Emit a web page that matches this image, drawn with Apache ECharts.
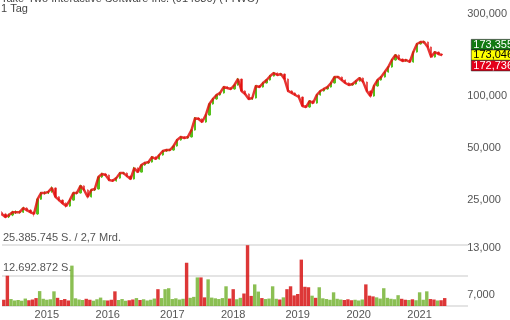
<!DOCTYPE html>
<html>
<head>
<meta charset="utf-8">
<script src="https://cdn.jsdelivr.net/npm/echarts@6/dist/echarts.min.js"></script>
<style>
html,body{margin:0;padding:0;background:#fff}
#main{width:510px;height:320px}
</style>
</head>
<body>
<div id="main"></div>
<script>
var chartTitle = 'Take-Two Interactive Software Inc. (914580) (TTWO)';
var period = '1 Tag';

// 3-week candles from April 2014 to May 2021, plus a few empty slots at the right
var firstDay = '2014-04-14';
var stepDays = 21;
var slotCount = 130;

var priceTicks = [7000, 13000, 25000, 50000, 100000, 300000];
var quoteHigh = 173355, quoteLast = 173046, quoteLow = 172736;

// [open, close, low, high]
var candles = [
  [21000,20600,20200,21400],[20600,19800,19400,20900],[19800,20300,19500,20700],[20300,21100,20000,21500],
  [21100,21100,20600,21600],[21100,21100,20700,21500],[21100,22300,20900,22700],[22300,21700,21300,22600],
  [21700,21100,20700,22000],[21100,20600,19900,21300],[20600,25100,20400,25500],[25100,27300,24900,27700],
  [27300,27300,26700,27900],[27300,27700,26900,28200],[27700,29200,27400,29800],[29200,25900,25500,29500],
  [25900,24800,24400,26200],[24800,23800,23400,25100],[23800,22900,22400,24100],[22900,24800,22700,25200],
  [24800,27300,24600,27700],[27300,27300,26800,27800],[27300,30000,27100,30500],[30000,28400,28000,30300],
  [28400,25900,25300,28700],[25900,28400,25700,28800],[28400,28800,28000,29300],[28800,33800,28600,34300],
  [33800,35200,33400,35800],[35200,34700,34200,35700],[34700,32500,32000,35000],[32500,32100,31600,32900],
  [32100,33300,31800,33800],[33300,35600,33000,36100],[35600,35600,35000,36200],[35600,34200,33700,36000],
  [34200,32900,32400,34500],[32900,38100,32700,38700],[38100,36100,35600,38500],[36100,39700,35900,40200],
  [39700,40800,39300,41400],[40800,41300,40300,41900],[41300,44200,41000,44800],[44200,43000,42400,44700],
  [43000,45400,42700,46000],[45400,47900,45000,48500],[47900,48500,47300,49200],[48500,48500,47800,49300],
  [48500,51200,48100,51900],[51200,55500,50800,56200],[55500,57800,55000,58600],[57800,57000,56200,58500],
  [57000,57800,56400,58600],[57800,63400,57400,64300],[63400,74400,63000,75500],[74400,73500,72400,75400],
  [73500,70600,69600,74200],[70600,77500,70000,78600],[77500,89900,77000,91200],[89900,96100,89200,97500],
  [96100,101400,95300,102900],[101400,104200,100500,105700],[104200,112800,103400,114400],[112800,111300,109700,114200],
  [111300,109900,108300,112800],[109900,115900,109000,117500],[115900,125600,115000,127400],[125600,107000,105400,126500],
  [107000,102800,101300,108200],[102800,96100,94700,103800],[96100,97400,95000,98800],[97400,114400,96800,116000],
  [114400,112800,111200,115800],[112800,119100,112000,120800],[119100,123900,118300,125600],[123900,130700,123100,132600],
  [130700,136100,129800,138100],[136100,132500,130600,137400],[132500,134300,131300,136200],[134300,125600,123800,135500],
  [125600,107000,105400,126600],[107000,104200,102700,108400],[104200,101400,100000,105300],[101400,98700,97300,102600],
  [98700,87500,86300,99600],[87500,86300,85000,88700],[86300,93500,85600,94800],[93500,91000,89700,94500],
  [91000,101400,90300,102800],[101400,107000,100600,108500],[107000,109900,106200,111400],[109900,112800,109000,114400],
  [112800,119100,112000,120800],[119100,129000,118300,130800],[129000,129000,127200,130800],[129000,123900,122200,130000],
  [123900,119100,117400,124900],[119100,115900,114300,120200],[115900,117500,114900,119100],[117500,122200,116600,123900],
  [122200,127200,121300,129000],[127200,120600,118900,128300],[120600,107000,105500,121600],[107000,100000,97500,108000],
  [100000,114400,99200,116000],[114400,123900,113500,125600],[123900,129000,123000,130800],[129000,137900,128100,139800],
  [137900,147500,136900,149500],[147500,162000,146300,164300],[162000,173200,160800,175600],[173200,164200,161900,174700],
  [164200,159800,157600,165600],[159800,162000,158200,164300],[162000,157700,155500,163300],[157700,180300,156500,182800],
  [180300,200800,179000,203600],[200800,206200,199300,209100],[206200,206200,202000,210000],[206200,192900,190200,207600],
  [192900,168600,166300,194200],[168600,180300,167400,182800],[180300,175500,173100,181600],[175500,173046,170600,176800]
];

var volumes = [
  2600000,12600000,2900000,2300000,2500000,2200000,3100000,2400000,2700000,3300000,
  6200000,3000000,2600000,2800000,6100000,3400000,2500000,2900000,2300000,16800000,
  3200000,2700000,2500000,3000000,2600000,2200000,2800000,3500000,2400000,2300000,
  2600000,6100000,2500000,2900000,2200000,2400000,2700000,3300000,2500000,2800000,
  2300000,2600000,3100000,7000000,3300000,7000000,7400000,2900000,3200000,2700000,
  3000000,18000000,3400000,3800000,11900000,11900000,3600000,11100000,3500000,3200000,
  2900000,3300000,8200000,3100000,7000000,2800000,3400000,5200000,25300000,4200000,
  9000000,6000000,3300000,2900000,3100000,8200000,3000000,2700000,3600000,7000000,
  8200000,4400000,5000000,19300000,8000000,7800000,4300000,3400000,7800000,3200000,
  2900000,2600000,5700000,3000000,2700000,2500000,2800000,2400000,2600000,2300000,
  2700000,9000000,4300000,4000000,3600000,3100000,7400000,3400000,3000000,2800000,
  4500000,3000000,2600000,2500000,2800000,2400000,5700000,2600000,6100000,2900000,
  2700000,2300000,2400000,3300000
];
var volumeMax = 25385745;

var upColor = '#55c01c';
var downColor = '#e3100f';

var dates = [];
var d0 = new Date(firstDay + 'T00:00:00Z');
for (var i = 0; i < slotCount; i++) {
  var d = new Date(d0.getTime() + i * stepDays * 86400000);
  dates.push(d.toISOString().slice(0, 10));
}
var closes = candles.map(function (c) { return c[1]; });

function isUp(idx) {
  var c = candles[idx];
  return c && c[1] >= c[0];
}

// slot that contains 1 January
function holdsNewYear(index) {
  return index + 1 < dates.length && dates[index].slice(0, 4) !== dates[index + 1].slice(0, 4);
}

var chart = echarts.init(document.getElementById('main'), null, {renderer: 'canvas'});

var option = {
  animation: false,
  backgroundColor: '#fff',
  textStyle: {fontFamily: 'Liberation Sans, Arial, sans-serif'},
  title: {
    text: chartTitle + '\n' + period,
    left: 1,
    top: -6,
    padding: 0,
    textStyle: {fontSize: 11, fontWeight: 'normal', color: '#444', lineHeight: 10}
  },
  grid: [
    {left: 0, right: 42, top: 0, bottom: 13},
    {left: 0, right: 42, top: 245, bottom: 13}
  ],
  xAxis: [
    {
      type: 'category', gridIndex: 0, data: dates,
      axisLine: {show: false}, axisTick: {show: false}, axisLabel: {show: false}
    },
    {
      type: 'category', gridIndex: 1, data: dates,
      axisLine: {show: false}, axisTick: {show: false},
      axisLabel: {
        interval: function (index) { return holdsNewYear(index); },
        formatter: function (v, idx) { return dates[idx + 1].slice(0, 4); },
        color: '#555', fontSize: 11, margin: 3
      }
    }
  ],
  yAxis: [
    {
      type: 'log', gridIndex: 0, position: 'right',
      min: 5924, max: 361900,
      axisLine: {show: false}, axisTick: {show: false}, splitLine: {show: false},
      axisLabel: {
        customValues: priceTicks,
        formatter: function (v) { return Math.round(v).toLocaleString('en-US'); },
        color: '#555', fontSize: 11, margin: 2, align: 'left'
      }
    },
    {
      type: 'value', gridIndex: 1, position: 'left',
      min: 0, max: volumeMax, interval: volumeMax / 2,
      axisLine: {show: false}, axisTick: {show: false},
      splitLine: {lineStyle: {color: '#e4e4e4', width: 2}},
      axisLabel: {
        inside: true, margin: 1, color: '#555', fontSize: 11,
        verticalAlign: 'bottom', padding: [0, 0, 2, 0],
        formatter: function (v) {
          if (v >= volumeMax - 1) return '25.385.745 S. / 2,7 Mrd.';
          if (v > 0) return '12.692.872 S.';
          return '';
        }
      }
    }
  ],
  series: [
    {
      type: 'candlestick', xAxisIndex: 0, yAxisIndex: 0, z: 2,
      data: candles, barMaxWidth: 2,
      itemStyle: {
        color: upColor, color0: downColor,
        borderColor: upColor, borderColor0: 'rgba(230,60,60,0.6)', borderWidth: 1
      }
    },
    {
      type: 'line', xAxisIndex: 0, yAxisIndex: 0, z: 3,
      data: closes, symbol: 'none',
      lineStyle: {color: downColor, width: 2.5, opacity: 0.85}
    },
    {
      type: 'bar', xAxisIndex: 1, yAxisIndex: 1,
      data: volumes, barCategoryGap: '5%',
      itemStyle: {
        color: function (p) { return isUp(p.dataIndex) ? 'rgba(110,175,40,0.8)' : 'rgba(215,20,20,0.85)'; }
      }
    }
  ]
};
chart.setOption(option);

var yMid = chart.convertToPixel({yAxisIndex: 0}, quoteLast);
function box(y, val, fill, txt) {
  return {
    type: 'group', left: 471, top: y,
    children: [
      {type: 'rect', shape: {x: 0, y: 0, width: 40, height: 10.5}, style: {fill: fill, stroke: '#222', lineWidth: 0.6}},
      {type: 'text', x: 2, y: 5.5, style: {text: val.toLocaleString('en-US'), fill: txt, font: '11px Liberation Sans, Arial, sans-serif', verticalAlign: 'middle'}}
    ]
  };
}
chart.setOption({
  graphic: [
    box(yMid - 16, quoteHigh, '#137a13', '#fff'),
    box(yMid - 5.5, quoteLast, '#ffff00', '#000'),
    box(yMid + 5, quoteLow, '#e4001b', '#fff')
  ]
});
</script>
</body>
</html>
